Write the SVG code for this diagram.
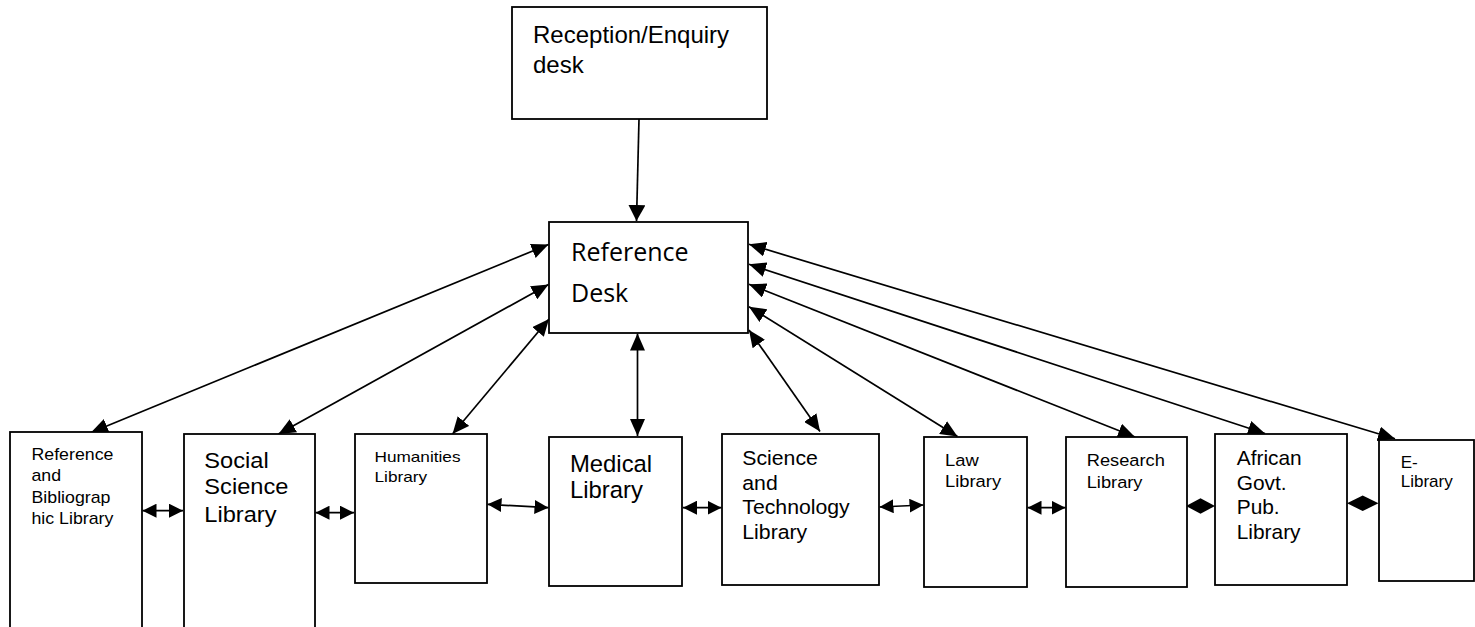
<svg xmlns="http://www.w3.org/2000/svg" width="1475" height="627" viewBox="0 0 1475 627">
<style>
.box{fill:#fff;stroke:#000;stroke-width:1.8}
.t{font-family:"Liberation Sans",Arial,sans-serif;fill:#000}
.cal{font-family:"Open Sans","Noto Sans",sans-serif;fill:#000}
.ln{stroke:#000;stroke-width:1.7;fill:none}
.big{marker-start:url(#ab);marker-end:url(#ab)}
.sm{marker-start:url(#as);marker-end:url(#as)}
</style>
<defs>
<marker id="ab" markerUnits="userSpaceOnUse" markerWidth="17" markerHeight="15" refX="17" refY="7.5" orient="auto-start-reverse" viewBox="0 0 17 15"><path d="M0,0 L17,7.5 L0,15 z" fill="#000"/></marker>
<marker id="as" markerUnits="userSpaceOnUse" markerWidth="14" markerHeight="14" refX="14" refY="7" orient="auto-start-reverse" viewBox="0 0 14 14"><path d="M0,0 L14,7 L0,14 z" fill="#000"/></marker>
<marker id="ae" markerUnits="userSpaceOnUse" markerWidth="16" markerHeight="17" refX="16" refY="8.5" orient="auto" viewBox="0 0 16 17"><path d="M0,0 L16,8.5 L0,17 z" fill="#000"/></marker>
</defs>
<rect width="1475" height="627" fill="#fff"/>

<g id="connectors">
<line class="ln" x1="639" y1="119" x2="636.5" y2="221" marker-end="url(#ae)"/>
<line class="ln big" x1="548.5" y1="244.5" x2="91" y2="432.5"/>
<line class="ln big" x1="548.5" y1="284.5" x2="278.5" y2="434"/>
<line class="ln big" x1="549" y1="319" x2="452.5" y2="434"/>
<line class="ln big" x1="637.5" y1="333.5" x2="637.5" y2="436"/>
<line class="ln big" x1="749" y1="330" x2="820" y2="431.5"/>
<line class="ln big" x1="749" y1="306.7" x2="957.5" y2="436.5"/>
<line class="ln big" x1="749" y1="284.3" x2="1135" y2="437"/>
<line class="ln big" x1="749" y1="264.3" x2="1265" y2="433.5"/>
<line class="ln big" x1="749" y1="244.3" x2="1395" y2="438.8"/>
<line class="ln sm" x1="142.5" y1="510.7" x2="183" y2="510.7"/>
<line class="ln sm" x1="315.5" y1="512.7" x2="354" y2="512.7"/>
<line class="ln sm" x1="487.5" y1="504.3" x2="548.5" y2="507.7"/>
<line class="ln sm" x1="683" y1="507.7" x2="721.5" y2="507.7"/>
<line class="ln sm" x1="879.5" y1="507" x2="923.5" y2="505"/>
<line class="ln sm" x1="1027.5" y1="507.7" x2="1065.5" y2="507.7"/>
<path d="M1186,506 L1200.5,498.3 L1215,506 L1200.5,513.7 z" fill="#000"/>
<path d="M1347,503.3 L1362.7,495.6 L1378.5,503.3 L1362.7,511 z" fill="#000"/>
</g>

<g id="reception">
<rect class="box" x="512" y="7" width="255" height="112"/>
<text class="t" font-size="24"><tspan x="533" y="43.3">Reception/Enquiry</tspan><tspan x="533" y="72.7">desk</tspan></text>
</g>

<g id="reference-desk">
<rect class="box" x="549" y="222" width="199" height="111"/>
<text class="cal" font-size="25"><tspan x="571" y="261">Reference</tspan><tspan x="571" y="302">Desk</tspan></text>
</g>

<g id="ref-bib">
<rect class="box" x="10" y="432" width="132" height="210"/>
<text class="t" font-size="16" transform="translate(31.5,460) scale(1.11,1)"><tspan x="0" y="0">Reference</tspan><tspan x="0" y="21">and</tspan><tspan x="0" y="43">Bibliograp</tspan><tspan x="0" y="64">hic Library</tspan></text>
</g>

<g id="social-science">
<rect class="box" x="184" y="434" width="131" height="210"/>
<text class="t" font-size="22" transform="translate(204.3,467.5) scale(1.075,1)"><tspan x="0" y="0">Social</tspan><tspan x="0" y="27">Science</tspan><tspan x="0" y="54.5">Library</tspan></text>
</g>

<g id="humanities">
<rect class="box" x="355" y="434" width="132" height="149"/>
<text class="t" font-size="15" transform="translate(374.5,461.5) scale(1.147,1)"><tspan x="0" y="0">Humanities</tspan><tspan x="0" y="21">Library</tspan></text>
</g>

<g id="medical">
<rect class="box" x="549" y="437" width="133" height="149"/>
<text class="t" font-size="23.5" transform="translate(570,472) scale(1.015,1)"><tspan x="0" y="0">Medical</tspan><tspan x="0" y="26.5">Library</tspan></text>
</g>

<g id="sci-tech">
<rect class="box" x="722" y="434" width="157" height="151"/>
<text class="t" font-size="19.5" transform="translate(742.3,465) scale(1.09,1)"><tspan x="0" y="0">Science</tspan><tspan x="0" y="24.7">and</tspan><tspan x="0" y="49.3">Technology</tspan><tspan x="0" y="74">Library</tspan></text>
</g>

<g id="law">
<rect class="box" x="924" y="437" width="103" height="150"/>
<text class="t" font-size="17" transform="translate(945,466) scale(1.08,1)"><tspan x="0" y="0">Law</tspan><tspan x="0" y="21">Library</tspan></text>
</g>

<g id="research">
<rect class="box" x="1066" y="437" width="121" height="150"/>
<text class="t" font-size="17" transform="translate(1086.7,466) scale(1.075,1)"><tspan x="0" y="0">Research</tspan><tspan x="0" y="22">Library</tspan></text>
</g>

<g id="african">
<rect class="box" x="1215" y="434" width="132" height="151"/>
<text class="t" font-size="20" transform="translate(1236.7,465) scale(1.045,1)"><tspan x="0" y="0">African</tspan><tspan x="0" y="24.7">Govt.</tspan><tspan x="0" y="49.3">Pub.</tspan><tspan x="0" y="74">Library</tspan></text>
</g>

<g id="e-library">
<rect class="box" x="1379" y="440" width="95" height="141"/>
<text class="t" font-size="16" transform="translate(1400.7,468) scale(1.065,1)"><tspan x="0" y="0">E-</tspan><tspan x="0" y="19">Library</tspan></text>
</g>
</svg>
